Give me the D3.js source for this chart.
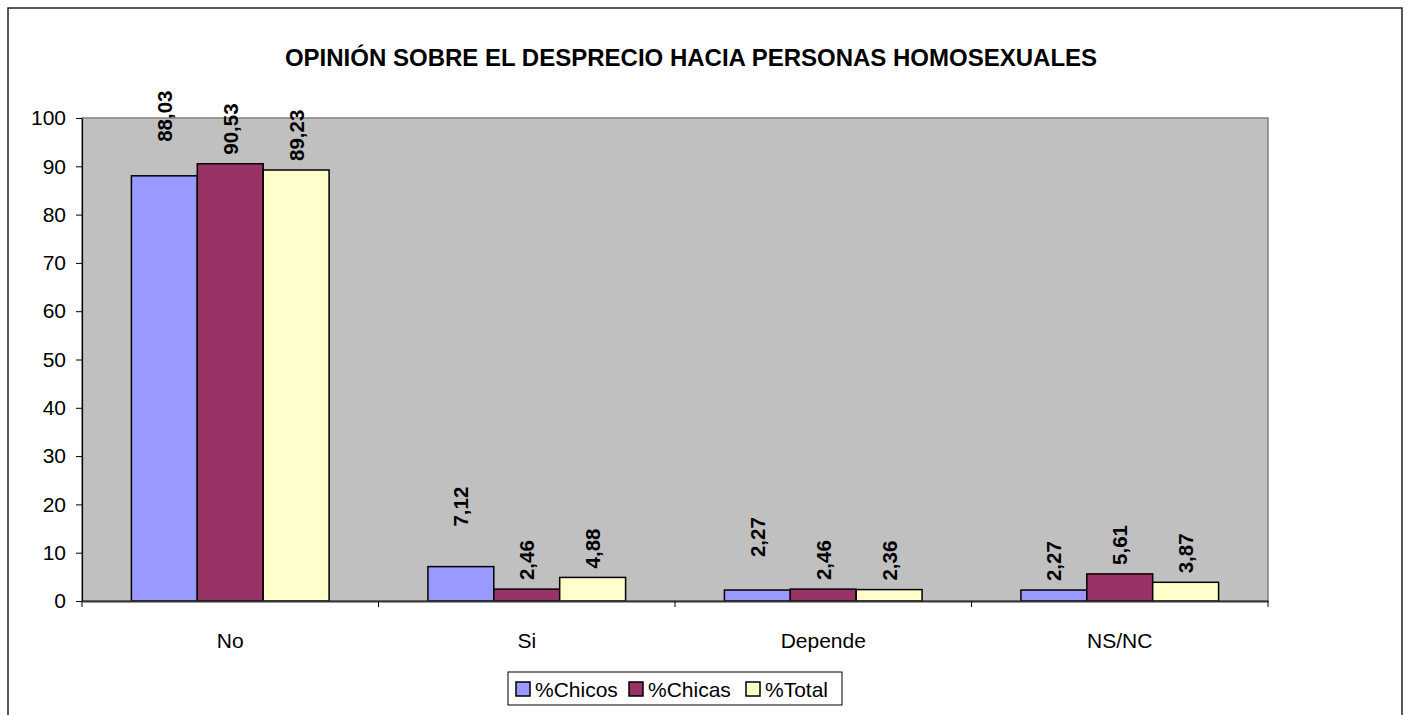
<!DOCTYPE html>
<html>
<head>
<meta charset="utf-8">
<script src="https://cdn.jsdelivr.net/npm/d3@7"></script>
<style>
  body { margin: 0; background: #fff; }
  svg { display: block; font-family: Arial, "Liberation Sans", sans-serif; }
</style>
</head>
<body>
<svg width="1408" height="715"></svg>
<script>
const titulo = "OPINIÓN SOBRE EL DESPRECIO HACIA PERSONAS HOMOSEXUALES";
const categorias = ["No", "Si", "Depende", "NS/NC"];
const series = ["%Chicos", "%Chicas", "%Total"];
const chicos = [88.03, 7.12, 2.27, 2.27];
const chicas = [90.53, 2.46, 2.46, 5.61];
const total = [89.23, 4.88, 2.36, 3.87];
const yTicks = [0, 10, 20, 30, 40, 50, 60, 70, 80, 90, 100];

const colores = ["#9999FF", "#993366", "#FFFFCC"];
// extra lift of some labels, as placed in the original
const subida = [[25, 0, 0], [31, 0, 0], [24, 0, 0], [0, 0, 0]];

const valores = [chicos, chicas, total];
const svg = d3.select("svg");
const fuente = "Arial, 'Liberation Sans', sans-serif";

// outer frame
svg.append("rect").attr("x", 8).attr("y", 8).attr("width", 1394).attr("height", 720)
  .attr("fill", "#fff").attr("stroke", "#222").attr("stroke-width", 1.5);

const pLeft = 82, pRight = 1268, pTop = 118, pBottom = 601;

const x = d3.scaleBand().domain(categorias).range([pLeft, pRight]);
const gap = x.bandwidth() * 0.75 / 4.5;
const xs = d3.scaleBand().domain(series).range([gap, x.bandwidth() - gap]);
const y = d3.scaleLinear().domain([0, 100]).range([pBottom, pTop]);

// plot area
svg.append("rect").attr("x", pLeft).attr("y", pTop)
  .attr("width", pRight - pLeft).attr("height", pBottom - pTop)
  .attr("fill", "#C0C0C0").attr("stroke", "#808080").attr("stroke-width", 1.5);

svg.append("text").attr("x", 691).attr("y", 66)
  .attr("text-anchor", "middle").attr("font-size", 24).attr("font-weight", "bold")
  .text(titulo);

const filas = [];
categorias.forEach((c, i) => series.forEach((s, j) => {
  filas.push({ c: c, s: s, v: valores[j][i], j: j, lift: subida[i][j] });
}));

svg.append("g").selectAll("rect")
  .data(filas).enter().append("rect")
  .attr("x", d => x(d.c) + xs(d.s))
  .attr("y", d => y(d.v))
  .attr("width", xs.bandwidth())
  .attr("height", d => y(0) - y(d.v))
  .attr("fill", d => colores[d.j])
  .attr("stroke", "#000").attr("stroke-width", 1.5);

svg.append("g").selectAll("text")
  .data(filas).enter().append("text")
  .attr("transform", d => "translate(" + (x(d.c) + xs(d.s) + xs.bandwidth() / 2) + "," + (y(d.v) - 9 - d.lift) + ") rotate(-90)")
  .attr("dy", "0.36em")
  .attr("font-size", 20.5).attr("font-weight", "bold")
  .text(d => d3.format(".2f")(d.v).replace(".", ","));

// y axis
const yAxis = d3.axisLeft(y).tickValues(yTicks).tickSize(6).tickSizeOuter(0);
const gy = svg.append("g").attr("transform", "translate(" + pLeft + ",0)").call(yAxis);
gy.select(".domain").attr("stroke", "#000").attr("stroke-width", 1.2);
gy.selectAll(".tick line").attr("stroke", "#000");
gy.selectAll(".tick text").attr("font-size", 21).attr("fill", "#000")
  .attr("font-family", fuente).attr("x", -16);

// x axis
const xAxis = d3.axisBottom(x).tickSize(0).tickSizeOuter(0);
const gx = svg.append("g").attr("transform", "translate(0," + pBottom + ")").call(xAxis);
gx.select(".domain").attr("stroke", "#333").attr("stroke-width", 2);
gx.selectAll(".tick text").attr("font-size", 21).attr("fill", "#000")
  .attr("font-family", fuente).attr("y", 32);
gx.selectAll(".sep").data(categorias.concat([null])).enter().append("line")
  .attr("x1", d => d === null ? pRight : x(d)).attr("x2", d => d === null ? pRight : x(d))
  .attr("y1", 0).attr("y2", 6).attr("stroke", "#000");

// legend
const lg = svg.append("g");
lg.append("rect").attr("x", 508).attr("y", 672).attr("width", 334).attr("height", 33)
  .attr("fill", "#fff").attr("stroke", "#000").attr("stroke-width", 1);
const lx = [516, 629, 746];
series.forEach((s, j) => {
  lg.append("rect").attr("x", lx[j]).attr("y", 682).attr("width", 14).attr("height", 14)
    .attr("fill", colores[j]).attr("stroke", "#000").attr("stroke-width", 1.5);
  lg.append("text").attr("x", lx[j] + 19).attr("y", 697).attr("font-size", 21).text(s);
});
</script>
</body>
</html>
